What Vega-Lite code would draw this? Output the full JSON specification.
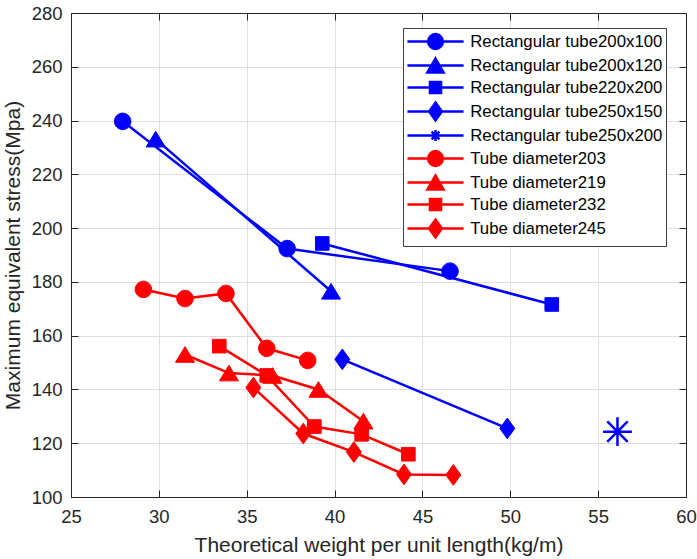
{
  "$schema": "https://vega.github.io/schema/vega-lite/v6.json",
  "width": 615,
  "height": 484,
  "autosize": {"type": "none"},
  "padding": {"left": 71, "top": 13, "right": 11, "bottom": 62},
  "background": "#ffffff",
  "config": {
    "view": {"stroke": null},
    "font": "Liberation Sans",
    "axis": {
      "labelFont": "Liberation Sans",
      "titleFont": "Liberation Sans",
      "labelFontSize": 18.5,
      "titleFontSize": 21,
      "titleFontWeight": "normal",
      "labelColor": "#262626",
      "titleColor": "#262626",
      "domainColor": "#262626",
      "domainWidth": 1,
      "tickColor": "#262626",
      "tickWidth": 1,
      "tickSize": -7,
      "gridColor": "#dfdfdf",
      "gridWidth": 1,
      "labelFlush": false,
      "labelOverlap": false
    }
  },
  "data": {
    "values": [
      {"series": "Rectangular tube200x100", "x": 27.94, "y": 239.7},
      {"series": "Rectangular tube200x100", "x": 37.3, "y": 192.4},
      {"series": "Rectangular tube200x100", "x": 46.57, "y": 184.0},
      {"series": "Rectangular tube200x120", "x": 29.82, "y": 233.1},
      {"series": "Rectangular tube200x120", "x": 39.8, "y": 176.5},
      {"series": "Rectangular tube220x200", "x": 39.3, "y": 194.3},
      {"series": "Rectangular tube220x200", "x": 52.36, "y": 171.6},
      {"series": "Rectangular tube250x150", "x": 40.44, "y": 151.2},
      {"series": "Rectangular tube250x150", "x": 49.83, "y": 125.5},
      {"series": "Rectangular tube250x200", "x": 56.1, "y": 124.3},
      {"series": "Tube diameter203", "x": 29.12, "y": 177.2},
      {"series": "Tube diameter203", "x": 31.49, "y": 173.8},
      {"series": "Tube diameter203", "x": 33.82, "y": 175.7},
      {"series": "Tube diameter203", "x": 36.14, "y": 155.3},
      {"series": "Tube diameter203", "x": 38.47, "y": 150.8},
      {"series": "Tube diameter219", "x": 31.49, "y": 153.0},
      {"series": "Tube diameter219", "x": 33.99, "y": 146.1},
      {"series": "Tube diameter219", "x": 36.46, "y": 145.2},
      {"series": "Tube diameter219", "x": 39.08, "y": 140.0},
      {"series": "Tube diameter219", "x": 41.64, "y": 128.2},
      {"series": "Tube diameter232", "x": 33.44, "y": 156.1},
      {"series": "Tube diameter232", "x": 36.14, "y": 145.2},
      {"series": "Tube diameter232", "x": 38.85, "y": 126.2},
      {"series": "Tube diameter232", "x": 41.54, "y": 123.3},
      {"series": "Tube diameter232", "x": 44.2, "y": 115.9},
      {"series": "Tube diameter245", "x": 35.38, "y": 140.7},
      {"series": "Tube diameter245", "x": 38.22, "y": 123.6},
      {"series": "Tube diameter245", "x": 41.1, "y": 116.7},
      {"series": "Tube diameter245", "x": 43.95, "y": 108.4},
      {"series": "Tube diameter245", "x": 46.76, "y": 108.2}
    ]
  },
  "layer": [
    {
      "mark": {"type": "line", "strokeWidth": 2.5},
      "encoding": {
        "x": {
          "field": "x", "type": "quantitative",
          "scale": {"domain": [25, 60], "nice": false, "zero": false},
          "axis": {
            "orient": "bottom",
            "values": [25, 30, 35, 40, 45, 50, 55, 60],
            "grid": true,
            "labelPadding": 17.5,
            "title": "Theoretical weight per unit length(kg/m)",
            "titlePadding": 8.5
          }
        },
        "y": {
          "field": "y", "type": "quantitative",
          "scale": {"domain": [100, 280], "nice": false, "zero": false},
          "axis": {
            "orient": "left",
            "values": [100, 120, 140, 160, 180, 200, 220, 240, 260, 280],
            "grid": true,
            "labelPadding": 16,
            "title": "Maximum equivalent stress(Mpa)",
            "titlePadding": 7.5
          }
        },
        "stroke": {
          "field": "series", "type": "nominal",
          "scale": {
            "domain": ["Rectangular tube200x100", "Rectangular tube200x120", "Rectangular tube220x200", "Rectangular tube250x150", "Rectangular tube250x200", "Tube diameter203", "Tube diameter219", "Tube diameter232", "Tube diameter245"],
            "range": ["#0000ff", "#0000ff", "#0000ff", "#0000ff", "#0000ff", "#ff0000", "#ff0000", "#ff0000", "#ff0000"]
          },
          "legend": null
        }
      }
    },
    {
      "mark": {"type": "point", "filled": true, "size": 289, "opacity": 1},
      "encoding": {
        "x": {
          "field": "x", "type": "quantitative",
          "axis": {"orient": "top", "values": [25, 30, 35, 40, 45, 50, 55, 60], "labels": false, "grid": false, "title": null}
        },
        "y": {
          "field": "y", "type": "quantitative",
          "axis": {"orient": "right", "values": [100, 120, 140, 160, 180, 200, 220, 240, 260, 280], "labels": false, "grid": false, "title": null}
        },
        "fill": {
          "field": "series", "type": "nominal",
          "scale": {
            "domain": ["Rectangular tube200x100", "Rectangular tube200x120", "Rectangular tube220x200", "Rectangular tube250x150", "Rectangular tube250x200", "Tube diameter203", "Tube diameter219", "Tube diameter232", "Tube diameter245"],
            "range": ["#0000ff", "#0000ff", "#0000ff", "#0000ff", "#0000ff", "#ff0000", "#ff0000", "#ff0000", "#ff0000"]
          },
          "legend": null
        },
        "stroke": {
          "field": "series", "type": "nominal",
          "scale": {
            "domain": ["Rectangular tube200x100", "Rectangular tube200x120", "Rectangular tube220x200", "Rectangular tube250x150", "Rectangular tube250x200", "Tube diameter203", "Tube diameter219", "Tube diameter232", "Tube diameter245"],
            "range": ["#0000ff", "#0000ff", "#0000ff", "#0000ff", "#0000ff", "#ff0000", "#ff0000", "#ff0000", "#ff0000"]
          },
          "legend": null
        },
        "strokeWidth": {
          "field": "series", "type": "nominal",
          "scale": {
            "type": "ordinal",
            "domain": ["Rectangular tube200x100", "Rectangular tube200x120", "Rectangular tube220x200", "Rectangular tube250x150", "Rectangular tube250x200", "Tube diameter203", "Tube diameter219", "Tube diameter232", "Tube diameter245"],
            "range": [1, 1, 1, 1, 2.5, 1, 1, 1, 1]
          },
          "legend": null
        },
        "shape": {
          "field": "series", "type": "nominal",
          "scale": {
            "domain": ["Rectangular tube200x100", "Rectangular tube200x120", "Rectangular tube220x200", "Rectangular tube250x150", "Rectangular tube250x200", "Tube diameter203", "Tube diameter219", "Tube diameter232", "Tube diameter245"],
            "range": [
              "M-0.97,0A0.97,0.97 0 1,0 0.97,0A0.97,0.97 0 1,0 -0.97,0Z",
              "M0,-0.92L1.12,0.92L-1.12,0.92Z",
              "M-0.8,-0.8H0.8V0.8H-0.8Z",
              "M0,-1.22L0.88,0L0,1.22L-0.88,0Z",
              "M-1.7,0H1.7M0,-1.7V1.7M-1.2,-1.2L1.2,1.2M-1.2,1.2L1.2,-1.2",
              "M-0.97,0A0.97,0.97 0 1,0 0.97,0A0.97,0.97 0 1,0 -0.97,0Z",
              "M0,-0.92L1.12,0.92L-1.12,0.92Z",
              "M-0.8,-0.8H0.8V0.8H-0.8Z",
              "M0,-1.22L0.88,0L0,1.22L-0.88,0Z"
            ]
          },
          "legend": null
        }
      }
    },
    {
      "transform": [{"filter": "datum.x > 1000"}],
      "mark": {"type": "point", "filled": true, "size": 289, "opacity": 1},
      "encoding": {
        "x": {"field": "x", "type": "quantitative", "axis": null},
        "y": {"field": "y", "type": "quantitative", "axis": null},
        "fill": {
          "field": "series", "type": "nominal",
          "scale": {
            "domain": ["Rectangular tube200x100", "Rectangular tube200x120", "Rectangular tube220x200", "Rectangular tube250x150", "Rectangular tube250x200", "Tube diameter203", "Tube diameter219", "Tube diameter232", "Tube diameter245"],
            "range": ["#0000ff", "#0000ff", "#0000ff", "#0000ff", "#0000ff", "#ff0000", "#ff0000", "#ff0000", "#ff0000"]
          },
          "legend": {"title": null, "orient": "none", "legendX": 332, "legendY": 15, "labelFontSize": 16.8, "labelFont": "Liberation Sans", "labelColor": "#000000", "symbolSize": 289, "symbolStrokeWidth": 2.5, "symbolOffset": 19, "labelOffset": 24.7, "rowPadding": -1, "padding": 3.5, "strokeColor": "#404040", "fillColor": "#ffffff", "symbolOpacity": 1, "labelLimit": 400, "cornerRadius": 0}
        },
        "stroke": {
          "field": "series", "type": "nominal",
          "scale": {
            "domain": ["Rectangular tube200x100", "Rectangular tube200x120", "Rectangular tube220x200", "Rectangular tube250x150", "Rectangular tube250x200", "Tube diameter203", "Tube diameter219", "Tube diameter232", "Tube diameter245"],
            "range": ["#0000ff", "#0000ff", "#0000ff", "#0000ff", "#0000ff", "#ff0000", "#ff0000", "#ff0000", "#ff0000"]
          },
          "legend": {"title": null, "orient": "none", "legendX": 332, "legendY": 15, "labelFontSize": 16.8, "labelFont": "Liberation Sans", "labelColor": "#000000", "symbolSize": 289, "symbolStrokeWidth": 2.5, "symbolOffset": 19, "labelOffset": 24.7, "rowPadding": -1, "padding": 3.5, "strokeColor": "#404040", "fillColor": "#ffffff", "symbolOpacity": 1, "labelLimit": 400, "cornerRadius": 0}
        },
        "shape": {
          "field": "series", "type": "nominal",
          "scale": {
            "domain": ["Rectangular tube200x100", "Rectangular tube200x120", "Rectangular tube220x200", "Rectangular tube250x150", "Rectangular tube250x200", "Tube diameter203", "Tube diameter219", "Tube diameter232", "Tube diameter245"],
            "range": [
              "M-3.3,0H3.3M-0.87,0A0.87,0.87 0 1,0 0.87,0A0.87,0.87 0 1,0 -0.87,0Z",
              "M-3.3,0H3.3M0,-0.82L0.95,0.82L-0.95,0.82Z",
              "M-3.3,0H3.3M-0.65,-0.65H0.65V0.65H-0.65Z",
              "M-3.3,0H3.3M0,-1.05L0.75,0L0,1.05L-0.75,0Z",
              "M-3.3,0H3.3M-0.65,0H0.65M0,-0.65V0.65M-0.46,-0.46L0.46,0.46M-0.46,0.46L0.46,-0.46",
              "M-3.3,0H3.3M-0.87,0A0.87,0.87 0 1,0 0.87,0A0.87,0.87 0 1,0 -0.87,0Z",
              "M-3.3,0H3.3M0,-0.82L0.95,0.82L-0.95,0.82Z",
              "M-3.3,0H3.3M-0.65,-0.65H0.65V0.65H-0.65Z",
              "M-3.3,0H3.3M0,-1.05L0.75,0L0,1.05L-0.75,0Z"
            ]
          },
          "legend": {"title": null, "orient": "none", "legendX": 332, "legendY": 15, "labelFontSize": 16.8, "labelFont": "Liberation Sans", "labelColor": "#000000", "symbolSize": 289, "symbolStrokeWidth": 2.5, "symbolOffset": 19, "labelOffset": 24.7, "rowPadding": -1, "padding": 3.5, "strokeColor": "#404040", "fillColor": "#ffffff", "symbolOpacity": 1, "labelLimit": 400, "cornerRadius": 0}
        }
      }
    }
  ],
  "resolve": {
    "scale": {"fill": "independent", "stroke": "independent", "shape": "independent", "strokeWidth": "independent"},
    "axis": {"x": "independent", "y": "independent"}
  }
}
